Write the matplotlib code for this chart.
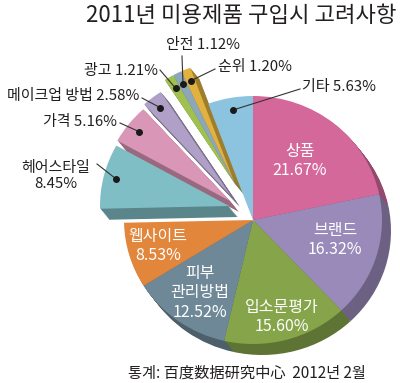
import matplotlib
matplotlib.use("Agg")
from matplotlib import pyplot as plt
import matplotlib.colors as mcolors
import numpy as np

plt.rcParams['font.family'] = ['Noto Sans CJK KR', 'Noto Sans CJK SC', 'DejaVu Sans']

# data (clockwise from 12 o'clock)
names = ["상품", "브랜드", "입소문평가", "피부관리방법", "웹사이트", "헤어스타일",
         "가격", "메이크업 방법", "광고", "안전", "순위", "기타"]
values = [21.67, 16.32, 15.60, 12.52, 8.53, 8.45, 5.16, 2.58, 1.21, 1.12, 1.20, 5.63]
colors = ["#d4689b", "#9a8aba", "#86a54a", "#6e8898", "#e2863c", "#80bec6",
          "#da96b6", "#b0a0c8", "#a0c050", "#8ca6ba", "#e2b240", "#8cc4e0"]

# pixel geometry of the picture
W, H = 400, 383
CX, CY = 253, 220      # pie centre in pixels
RX, RY = 129, 124      # pixels per data unit

# how far each slice is pulled out (pixels: right, up)
pull = [(0, 0), (0, 0), (0, 0), (0, 0), (0, 0), (-24, 14),
        (-23, 19), (-22, 24), (-18, 36), (-18, 36), (-18, 36), (0, 0)]
pull = [(px / RX, py / RY) for px, py in pull]

depth = (9 / RX, -11 / RY)  # side thickness direction
n_layers = 10

fig = plt.figure(figsize=(W / 100, H / 100), dpi=100)
ax = fig.add_axes([0, 0, 1, 1])

# side of the pie (darker copies, shifted)
side_colors = [tuple(c * 0.7 for c in mcolors.to_rgb(col)) for col in colors]
for k in range(n_layers, 0, -1):
    sx, sy = depth[0] * k / n_layers, depth[1] * k / n_layers
    wedges, _ = ax.pie(values, colors=side_colors, startangle=90, counterclock=False,
                       wedgeprops=dict(linewidth=0))
    for w, (ox, oy) in zip(wedges, pull):
        w.set_center((ox + sx, oy + sy))

# top face
wedges, _ = ax.pie(values, colors=colors, startangle=90, counterclock=False,
                   wedgeprops=dict(linewidth=0))
for w, (ox, oy) in zip(wedges, pull):
    w.set_center((ox, oy))

ax.set_aspect('auto')
ax.set_xlim(-CX / RX, (W - CX) / RX)
ax.set_ylim((CY - H) / RY, CY / RY)
ax.axis('off')


def px(x, y):
    return ((x - CX) / RX, (CY - y) / RY)


# mid angle of each slice
total = sum(values)
cum = np.cumsum([0] + values)
mid_angles = [np.radians(90 - 360 * (cum[i] + cum[i + 1]) / 2 / total) for i in range(len(values))]

# outside labels: index, text, text anchor (px), ha, line end (px)
outside = [
    (9, "안전 1.12%", (166, 45), "left", (182, 56)),
    (8, "광고 1.21%", (158, 71), "right", (160, 70)),
    (10, "순위 1.20%", (218, 67), "left", (215, 69)),
    (11, "기타 5.63%", (302, 87), "left", (300, 89)),
    (7, "메이크업 방법 2.58%", (139, 96), "right", (142, 98)),
    (6, "가격 5.16%", (117, 122), "right", (120, 123)),
    (5, "헤어스타일\n8.45%", (56, 176), "center", (97, 164)),
]
for i, txt, (tx, ty), ha, (lx, ly) in outside:
    ox, oy = pull[i]
    a = mid_angles[i]
    dx, dy = ox + 0.9 * np.cos(a), oy + 0.9 * np.sin(a)
    ex, ey = px(lx, ly)
    ax.plot([dx, ex], [dy, ey], color="#333333", lw=0.8)
    ax.plot(dx, dy, "o", color="#1a1a1a", ms=4)
    tx_, ty_ = px(tx, ty)
    ax.text(tx_, ty_, txt, ha=ha, va="center", fontsize=10.8, color="#231f20",
            linespacing=1.2, multialignment="center")

# inside labels
inside = [
    ("상품\n21.67%", (300, 161)),
    ("브랜드\n16.32%", (335, 240)),
    ("입소문평가\n15.60%", (282, 317)),
    ("피부\n관리방법\n12.52%", (200, 293)),
    ("웹사이트\n8.53%", (158, 246)),
]
for txt, (tx, ty) in inside:
    tx_, ty_ = px(tx, ty)
    ax.text(tx_, ty_, txt, ha="center", va="center", fontsize=11.5, color="white",
            linespacing=1.2)

fig.text(396 / W, 1 - 15 / H, "2011년 미용제품 구입시 고려사항", ha="right", va="center",
         fontsize=16, color="#231f20")
fig.text(247 / W, 1 - 373 / H, "통계: 百度数据研究中心  2012년 2월", ha="center", va="center",
         fontsize=11, color="#231f20")

fig.savefig("out.png", dpi=100)
